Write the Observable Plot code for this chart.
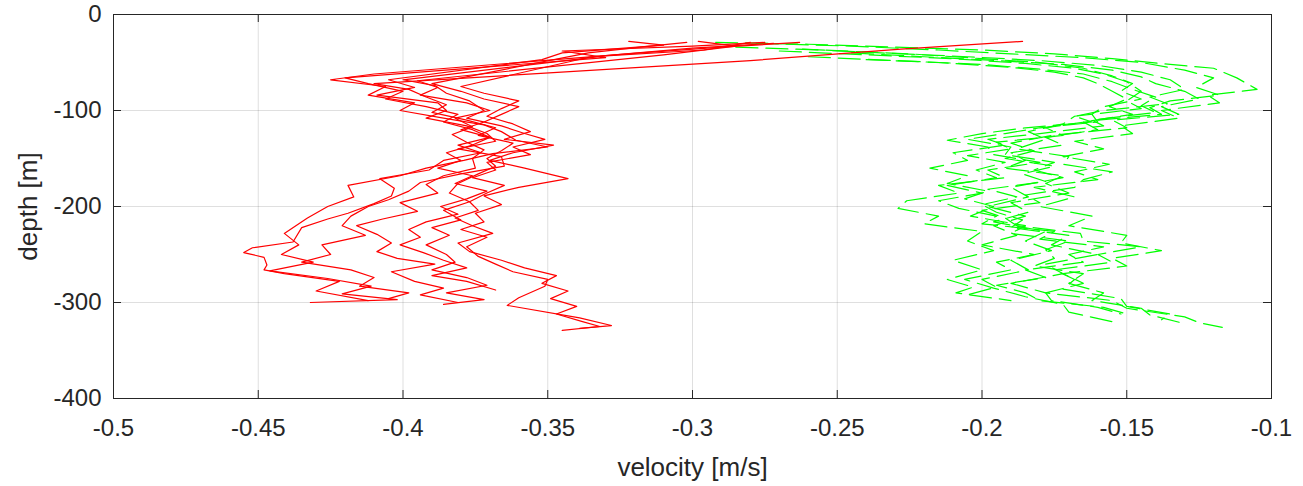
<!DOCTYPE html>
<html><head><meta charset="utf-8">
<script src="https://cdn.jsdelivr.net/npm/d3@7"></script>
<script src="https://cdn.jsdelivr.net/npm/@observablehq/plot@0.6"></script>
<style>body{margin:0;background:#fff;} svg{display:block}</style>
</head><body><div id="chart"></div>
<script>
// velocity [m/s], depth [m] pairs for each red (solid) profile
const red1 = [[-0.275,-29],[-0.300,-33],[-0.345,-38],[-0.330,-45],[-0.420,-66],[-0.412,-72],[-0.400,-80],[-0.406,-88],[-0.392,-96],[-0.381,-104],[-0.386,-112],[-0.376,-120],[-0.370,-128],[-0.381,-136],[-0.373,-144],[-0.386,-152],[-0.391,-162],[-0.408,-171],[-0.403,-181],[-0.404,-189],[-0.410,-197],[-0.419,-207],[-0.426,-213],[-0.435,-222],[-0.438,-237],[-0.452,-243],[-0.455,-248],[-0.448,-253],[-0.447,-261],[-0.448,-266],[-0.441,-270],[-0.422,-278],[-0.430,-288],[-0.412,-298]];
const red2 = [[-0.263,-29],[-0.290,-34],[-0.318,-40],[-0.410,-62],[-0.425,-68],[-0.406,-75],[-0.412,-84],[-0.396,-92],[-0.401,-100],[-0.386,-108],[-0.372,-115],[-0.366,-122],[-0.361,-131],[-0.350,-138],[-0.369,-145],[-0.379,-152],[-0.392,-160],[-0.401,-168],[-0.419,-178],[-0.417,-190],[-0.426,-200],[-0.433,-212],[-0.441,-228],[-0.436,-240],[-0.442,-250],[-0.431,-258],[-0.446,-267],[-0.426,-275],[-0.411,-283],[-0.421,-291],[-0.402,-297],[-0.432,-300]];
const red3 = [[-0.322,-28],[-0.310,-32],[-0.345,-40],[-0.352,-47],[-0.405,-68],[-0.396,-76],[-0.409,-84],[-0.388,-92],[-0.385,-100],[-0.392,-108],[-0.378,-116],[-0.371,-124],[-0.368,-132],[-0.381,-140],[-0.366,-148],[-0.365,-158],[-0.380,-166],[-0.394,-175],[-0.398,-184],[-0.405,-193],[-0.412,-200],[-0.418,-210],[-0.421,-220],[-0.413,-230],[-0.428,-240],[-0.425,-250],[-0.435,-258],[-0.418,-266],[-0.410,-274],[-0.415,-283],[-0.398,-290],[-0.405,-296]];
const red4 = [[-0.298,-28],[-0.285,-33],[-0.310,-42],[-0.395,-69],[-0.388,-76],[-0.394,-84],[-0.378,-92],[-0.370,-100],[-0.382,-108],[-0.376,-117],[-0.383,-125],[-0.378,-133],[-0.372,-141],[-0.376,-150],[-0.375,-160],[-0.386,-168],[-0.392,-177],[-0.388,-186],[-0.401,-196],[-0.395,-205],[-0.407,-213],[-0.416,-220],[-0.409,-229],[-0.404,-238],[-0.409,-247],[-0.402,-254],[-0.389,-260],[-0.404,-268],[-0.396,-278],[-0.386,-285],[-0.394,-292],[-0.381,-300]];
const red5 = [[-0.186,-28],[-0.228,-36],[-0.280,-48],[-0.410,-72],[-0.398,-78],[-0.392,-86],[-0.385,-94],[-0.390,-102],[-0.378,-110],[-0.368,-118],[-0.374,-126],[-0.362,-134],[-0.366,-142],[-0.371,-150],[-0.368,-158],[-0.374,-166],[-0.381,-176],[-0.384,-186],[-0.377,-195],[-0.386,-204],[-0.380,-214],[-0.390,-222],[-0.384,-230],[-0.392,-240],[-0.385,-250],[-0.382,-258],[-0.390,-266],[-0.378,-274],[-0.371,-282],[-0.385,-290],[-0.372,-297],[-0.386,-302]];
const red6 = [[-0.272,-30],[-0.300,-35],[-0.335,-44],[-0.380,-75],[-0.372,-82],[-0.360,-90],[-0.366,-98],[-0.371,-106],[-0.362,-114],[-0.356,-122],[-0.365,-130],[-0.348,-136],[-0.362,-144],[-0.370,-152],[-0.358,-160],[-0.343,-171],[-0.360,-180],[-0.372,-189],[-0.366,-198],[-0.375,-207],[-0.372,-216],[-0.380,-224],[-0.371,-232],[-0.378,-242],[-0.374,-252],[-0.368,-260],[-0.362,-268],[-0.350,-276],[-0.351,-283],[-0.360,-295],[-0.364,-303],[-0.339,-316],[-0.328,-324],[-0.339,-327]];
const red7 = [[-0.280,-29],[-0.296,-37],[-0.330,-43],[-0.400,-68],[-0.389,-74],[-0.385,-82],[-0.377,-90],[-0.372,-100],[-0.378,-108],[-0.366,-116],[-0.358,-124],[-0.351,-130],[-0.362,-138],[-0.356,-146],[-0.371,-154],[-0.368,-162],[-0.376,-170],[-0.365,-178],[-0.371,-186],[-0.377,-195],[-0.374,-204],[-0.382,-212],[-0.376,-220],[-0.369,-228],[-0.381,-238],[-0.377,-247],[-0.366,-256],[-0.358,-264],[-0.347,-272],[-0.352,-280],[-0.343,-288],[-0.349,-296],[-0.340,-304],[-0.347,-312],[-0.338,-320],[-0.332,-325],[-0.345,-329]];
const red8 = [[-0.302,-29],[-0.318,-34],[-0.336,-40],[-0.390,-72],[-0.380,-80],[-0.372,-88],[-0.360,-96],[-0.366,-104],[-0.372,-112],[-0.380,-120],[-0.370,-128],[-0.376,-136],[-0.385,-144],[-0.380,-152],[-0.388,-160],[-0.376,-168],[-0.382,-176],[-0.371,-184],[-0.378,-192],[-0.387,-200],[-0.381,-208],[-0.392,-216],[-0.398,-224],[-0.394,-232],[-0.401,-240],[-0.393,-248],[-0.386,-256],[-0.378,-264],[-0.390,-272],[-0.378,-278],[-0.368,-287]];

// velocity [m/s], depth [m] pairs for each green (dashed) profile
const green1 = [[-0.292,-29],[-0.260,-31],[-0.230,-34],[-0.200,-37],[-0.175,-41],[-0.155,-46],[-0.135,-52],[-0.120,-56],[-0.112,-66],[-0.105,-78],[-0.122,-84],[-0.118,-92],[-0.138,-100],[-0.132,-108],[-0.152,-116],[-0.148,-124],[-0.168,-132],[-0.158,-140],[-0.172,-148],[-0.156,-156],[-0.168,-164],[-0.160,-172],[-0.182,-180],[-0.168,-190],[-0.180,-200],[-0.162,-210],[-0.170,-220],[-0.150,-230],[-0.152,-238],[-0.138,-246],[-0.155,-254],[-0.150,-262],[-0.172,-270],[-0.165,-280],[-0.178,-290],[-0.155,-298],[-0.150,-306],[-0.130,-315],[-0.125,-321],[-0.117,-326]];
const green2 = [[-0.278,-30],[-0.245,-33],[-0.215,-37],[-0.190,-41],[-0.165,-45],[-0.145,-50],[-0.130,-58],[-0.120,-66],[-0.126,-76],[-0.118,-84],[-0.135,-90],[-0.142,-97],[-0.138,-104],[-0.160,-110],[-0.178,-118],[-0.172,-126],[-0.195,-133],[-0.190,-140],[-0.205,-147],[-0.192,-154],[-0.202,-162],[-0.195,-170],[-0.212,-178],[-0.200,-186],[-0.215,-194],[-0.208,-202],[-0.195,-210],[-0.200,-218],[-0.175,-226],[-0.180,-234],[-0.158,-242],[-0.170,-250],[-0.165,-258],[-0.185,-266],[-0.178,-274],[-0.195,-282],[-0.185,-290],[-0.180,-298],[-0.158,-305],[-0.150,-312]];
const green3 = [[-0.262,-36],[-0.235,-40],[-0.205,-44],[-0.180,-48],[-0.160,-53],[-0.145,-60],[-0.135,-68],[-0.130,-78],[-0.142,-86],[-0.136,-93],[-0.158,-100],[-0.168,-106],[-0.162,-112],[-0.185,-118],[-0.200,-124],[-0.212,-131],[-0.198,-138],[-0.196,-146],[-0.180,-154],[-0.198,-162],[-0.192,-170],[-0.215,-178],[-0.208,-186],[-0.226,-194],[-0.229,-202],[-0.215,-210],[-0.220,-218],[-0.200,-226],[-0.205,-236],[-0.196,-246],[-0.210,-256],[-0.200,-266],[-0.212,-276],[-0.203,-284],[-0.209,-290],[-0.190,-298]];
const green4 = [[-0.245,-40],[-0.220,-44],[-0.195,-48],[-0.172,-52],[-0.155,-58],[-0.145,-65],[-0.140,-72],[-0.130,-80],[-0.125,-88],[-0.138,-96],[-0.132,-104],[-0.155,-110],[-0.150,-118],[-0.176,-126],[-0.190,-134],[-0.182,-142],[-0.192,-150],[-0.175,-158],[-0.186,-166],[-0.178,-174],[-0.198,-182],[-0.188,-190],[-0.200,-198],[-0.195,-206],[-0.186,-214],[-0.190,-222],[-0.170,-230],[-0.176,-240],[-0.160,-250],[-0.178,-260],[-0.172,-270],[-0.190,-280],[-0.178,-290],[-0.176,-298],[-0.160,-305],[-0.152,-312]];
const green5 = [[-0.260,-44],[-0.230,-48],[-0.200,-52],[-0.180,-57],[-0.165,-62],[-0.155,-70],[-0.148,-78],[-0.140,-86],[-0.145,-95],[-0.140,-102],[-0.162,-110],[-0.158,-116],[-0.180,-124],[-0.198,-130],[-0.192,-136],[-0.210,-144],[-0.205,-152],[-0.218,-160],[-0.205,-168],[-0.212,-176],[-0.198,-184],[-0.206,-192],[-0.196,-200],[-0.204,-210],[-0.185,-220],[-0.190,-228],[-0.170,-236],[-0.178,-245],[-0.175,-254],[-0.182,-262],[-0.165,-270],[-0.170,-280],[-0.158,-290],[-0.162,-298],[-0.145,-306],[-0.142,-313],[-0.130,-322]];
const green6 = [[-0.240,-47],[-0.215,-50],[-0.190,-55],[-0.175,-60],[-0.165,-66],[-0.160,-72],[-0.155,-80],[-0.150,-88],[-0.156,-96],[-0.148,-104],[-0.165,-112],[-0.160,-120],[-0.178,-128],[-0.172,-136],[-0.190,-144],[-0.185,-152],[-0.192,-160],[-0.172,-168],[-0.178,-176],[-0.170,-186],[-0.190,-196],[-0.184,-206],[-0.196,-216],[-0.178,-226],[-0.185,-236],[-0.176,-246],[-0.190,-256],[-0.184,-266],[-0.200,-276],[-0.195,-284],[-0.205,-292]];
const green7 = [[-0.270,-38],[-0.240,-42],[-0.210,-46],[-0.185,-51],[-0.168,-56],[-0.158,-62],[-0.150,-70],[-0.145,-80],[-0.150,-90],[-0.145,-98],[-0.168,-106],[-0.172,-114],[-0.184,-122],[-0.178,-130],[-0.188,-140],[-0.170,-148],[-0.172,-156],[-0.155,-164],[-0.165,-172],[-0.168,-180],[-0.185,-188],[-0.180,-196],[-0.200,-204],[-0.192,-212],[-0.188,-220],[-0.166,-228],[-0.165,-236],[-0.145,-242],[-0.160,-250],[-0.155,-258],[-0.175,-266],[-0.168,-276],[-0.172,-286],[-0.152,-296],[-0.150,-304],[-0.135,-312],[-0.138,-318]];
const green8 = [[-0.285,-34],[-0.255,-37],[-0.225,-41],[-0.200,-46],[-0.180,-50],[-0.165,-56],[-0.155,-64],[-0.148,-72],[-0.152,-80],[-0.145,-88],[-0.158,-96],[-0.162,-104],[-0.160,-112],[-0.180,-118],[-0.192,-124],[-0.205,-130],[-0.190,-138],[-0.192,-146],[-0.175,-154],[-0.182,-162],[-0.172,-170],[-0.190,-180],[-0.184,-190],[-0.198,-200],[-0.185,-210],[-0.196,-220],[-0.188,-230],[-0.200,-240],[-0.182,-250],[-0.195,-258],[-0.190,-266],[-0.206,-276],[-0.196,-285],[-0.185,-294],[-0.172,-302],[-0.170,-310],[-0.155,-320]];

const xTicks = [-0.5, -0.45, -0.4, -0.35, -0.3, -0.25, -0.2, -0.15, -0.1];
const yTicks = [0, -100, -200, -300, -400];
const xLabel = "velocity [m/s]";
const yLabel = "depth [m]";

const redProfiles = [red1, red2, red3, red4, red5, red6, red7, red8];
const greenProfiles = [green1, green2, green3, green4, green5, green6, green7, green8];
const toRows = (profiles, prefix) => profiles.flatMap((p, i) => p.map(([v, d]) => ({v, d, profile: prefix + i})));
const redRows = toRows(redProfiles, "r");
const greenRows = toRows(greenProfiles, "g");

const W = 1303, H = 486, mt = 14, mb = 88, ml = 113, mr = 32;
const plotH = H - mt - mb, plotW = W - ml - mr;
const ink = "#262626";
const fmt = d => String(Math.round(d * 100) / 100);
const font = "'Liberation Sans', Arial, Helvetica, sans-serif";

const chart = Plot.plot({
  width: W, height: H,
  marginTop: mt, marginBottom: mb, marginLeft: ml, marginRight: mr,
  style: {fontFamily: font, color: ink, background: "#fff", overflow: "visible"},
  x: {domain: [-0.5, -0.1]},
  y: {domain: [-400, 0]},
  marks: [
    Plot.gridX(xTicks, {stroke: ink, strokeOpacity: 0.15}),
    Plot.gridY(yTicks, {stroke: ink, strokeOpacity: 0.15}),
    Plot.line(greenRows, {x: "v", y: "d", z: "profile", stroke: "#00ff00", strokeWidth: 1.2, strokeDasharray: "22,8", curve: "linear"}),
    Plot.line(redRows, {x: "v", y: "d", z: "profile", stroke: "#ff0000", strokeWidth: 1.2, curve: "linear"}),
    Plot.frame({stroke: ink}),
    Plot.tickX(xTicks, {x: d => d, insetTop: plotH - 8, stroke: ink}),
    Plot.tickX(xTicks, {x: d => d, insetBottom: plotH - 8, stroke: ink}),
    Plot.tickY(yTicks, {y: d => d, insetRight: plotW - 8, stroke: ink}),
    Plot.tickY(yTicks, {y: d => d, insetLeft: plotW - 8, stroke: ink}),
    Plot.axisX(xTicks, {tickSize: 0, tickPadding: 20, fontSize: 24, tickFormat: fmt, label: null, fill: ink}),
    Plot.axisY(yTicks, {tickSize: 0, tickPadding: 12, fontSize: 24, tickFormat: fmt, label: null, fill: ink}),
    Plot.axisX({tickSize: 0, ticks: [], label: xLabel, labelAnchor: "center", labelArrow: "none", labelOffset: 77, fontSize: 26, fill: ink}),
    Plot.axisY({tickSize: 0, ticks: [], label: yLabel, labelAnchor: "center", labelArrow: "none", labelOffset: 95, fontSize: 26, fill: ink})
  ]
});
document.getElementById("chart").appendChild(chart);
</script>
</body></html>
